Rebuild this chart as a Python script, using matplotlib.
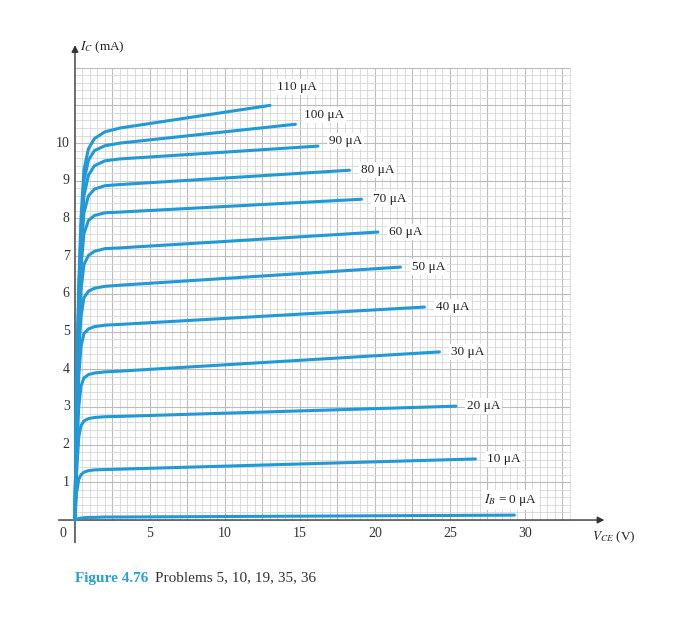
import numpy as np
import matplotlib.pyplot as plt

plt.rcParams['font.family'] = ['Liberation Serif', 'DejaVu Serif']
plt.rcParams['mathtext.fontset'] = 'stix'

# Kennlinien I_C(V_CE) für verschiedene Basisströme
ib_labels = ['$I_B$ = 0 μA', '10 μA', '20 μA', '30 μA', '40 μA', '50 μA',
             '60 μA', '70 μA', '80 μA', '90 μA', '100 μA', '110 μA']
vce_knee = [0, 0.1, 0.25, 0.4, 0.6, 0.9, 1.3, 2.0, 3.0]
vce_end = [29.3, 26.7, 25.4, 24.3, 23.3, 21.7, 20.2, 19.1, 18.3, 16.2, 14.7, 13.0]
ic_curves = [
    [0, 0.02, 0.04, 0.05, 0.06, 0.07, 0.07, 0.08, 0.08, 0.13],
    [0, 0.7, 1.08, 1.2, 1.27, 1.31, 1.33, 1.34, 1.35, 1.62],
    [0, 1.2, 2.2, 2.5, 2.63, 2.69, 2.72, 2.74, 2.75, 3.02],
    [0, 1.6, 3.0, 3.55, 3.77, 3.86, 3.90, 3.93, 3.95, 4.46],
    [0, 2.0, 3.8, 4.6, 4.95, 5.07, 5.13, 5.17, 5.19, 5.65],
    [0, 2.3, 4.4, 5.4, 5.9, 6.07, 6.15, 6.20, 6.23, 6.71],
    [0, 2.6, 4.9, 6.1, 6.78, 7.02, 7.13, 7.20, 7.22, 7.64],
    [0, 2.8, 5.3, 6.7, 7.6, 7.95, 8.08, 8.15, 8.17, 8.51],
    [0, 3.0, 5.6, 7.1, 8.15, 8.6, 8.78, 8.87, 8.90, 9.28],
    [0, 3.1, 5.8, 7.4, 8.6, 9.15, 9.40, 9.53, 9.58, 9.92],
    [0, 3.2, 6.0, 7.7, 9.0, 9.55, 9.80, 9.93, 10.0, 10.5],
    [0, 3.3, 6.2, 8.0, 9.3, 9.85, 10.12, 10.3, 10.4, 11.0],
]
x_ticks = [5, 10, 15, 20, 25, 30]
y_ticks = [1, 2, 3, 4, 5, 6, 7, 8, 9, 10]

# Beschriftungs-Versatz (Punkte) relativ zum Kurvenende
label_off = [(-22, 11), (8, 0), (8, 0), (8, 0), (8, 0), (8, 0),
             (8, 0), (8, 0), (8, 0), (8, 4), (6, 7), (5, 13)]

blue = '#2099d6'
fig = plt.figure(figsize=(7, 6.29), dpi=100)
ax = fig.add_axes([0.0814, 0.1313, 0.797, 0.809])
ax.set_xlim(-1.2, 36)
ax.set_ylim(-0.7, 12.8)
ax.set_axis_off()

# Millimeterpapier
xmax, ymax = 33, 12
for xv in np.arange(0.5, xmax + 0.01, 0.5):
    major = abs(xv / 2.5 - round(xv / 2.5)) < 1e-6
    ax.vlines(xv, 0, ymax, color='#bcbcbc' if major else '#d6d6d6',
              lw=0.8 if major else 0.6, zorder=1)
for yv in np.arange(0.2, ymax + 0.01, 0.2):
    major = abs(yv - round(yv)) < 1e-6
    ax.hlines(yv, 0, xmax, color='#bcbcbc' if major else '#d6d6d6',
              lw=0.8 if major else 0.6, zorder=1)

# Achsen mit Pfeilen
ax.annotate('', xy=(35.3, 0), xytext=(-1.1, 0),
            arrowprops=dict(arrowstyle='-|>', color='#333333', lw=1.0,
                            mutation_scale=10, shrinkA=0, shrinkB=0), zorder=3)
ax.annotate('', xy=(0, 12.6), xytext=(0, -0.6),
            arrowprops=dict(arrowstyle='-|>', color='#333333', lw=1.0,
                            mutation_scale=10, shrinkA=0, shrinkB=0), zorder=3)

for lbl, vend, ic, off in zip(ib_labels, vce_end, ic_curves, label_off):
    v = vce_knee + [vend]
    ax.plot(v, ic, color=blue, lw=2.2, solid_capstyle='round',
            solid_joinstyle='round', zorder=4)
    ax.annotate(lbl, (vend, ic[-1]), xytext=off, textcoords='offset points',
                ha='left', va='center', fontsize=9.5, color='#222222', zorder=5,
                bbox=dict(boxstyle='square,pad=0.15', fc='white', ec='none'))

for t in x_ticks:
    ax.text(t, -0.35, str(t), ha='center', va='center', fontsize=10, color='#333333')
for t in y_ticks:
    ax.text(-0.35, t, str(t), ha='right', va='center', fontsize=10, color='#333333')
ax.text(-0.8, -0.35, '0', ha='center', va='center', fontsize=10, color='#333333')

ax.text(0.35, 12.55, '$I_C$ (mA)', ha='left', va='center', fontsize=9.5, color='#222222')
ax.text(34.5, -0.45, '$V_{CE}$ (V)', ha='left', va='center', fontsize=9.5, color='#222222')

fig.text(0.107, 0.081, 'Figure 4.76', fontsize=11, fontweight='bold', color='#2a9fd0',
         ha='left', va='center')
fig.text(0.222, 0.081, 'Problems 5, 10, 19, 35, 36', fontsize=11, color='#333333',
         ha='left', va='center')

fig.savefig('out.png', dpi=100)
